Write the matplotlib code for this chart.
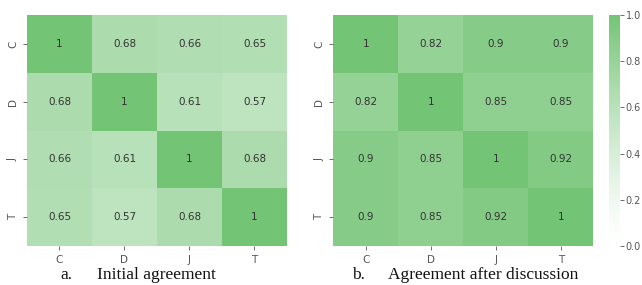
import numpy as np
import matplotlib
matplotlib.use("Agg")
import matplotlib.pyplot as plt
import seaborn as sns
from matplotlib.colors import LinearSegmentedColormap

labels = ["C", "D", "J", "T"]

initial = [
    [1, 0.68, 0.66, 0.65],
    [0.68, 1, 0.61, 0.57],
    [0.66, 0.61, 1, 0.68],
    [0.65, 0.57, 0.68, 1],
]

after = [
    [1, 0.82, 0.9, 0.9],
    [0.82, 1, 0.85, 0.85],
    [0.9, 0.85, 1, 0.92],
    [0.9, 0.85, 0.92, 1],
]

letters = ["a.", "b."]
captions = ["Initial agreement", "Agreement after discussion"]

cmap = LinearSegmentedColormap.from_list("gr", ["#ffffff", "#74c476"], N=256, gamma=1.35)

fig = plt.figure(figsize=(6.42, 2.85), dpi=100)
ax1 = fig.add_axes([0.042, 0.137, 0.405, 0.81])
ax2 = fig.add_axes([0.519, 0.137, 0.405, 0.81])
cax = fig.add_axes([0.949, 0.137, 0.016, 0.81])

for ax, data, cb in [(ax1, initial, False), (ax2, after, True)]:
    sns.heatmap(np.array(data), ax=ax, cmap=cmap, vmin=0, vmax=1, annot=True,
                annot_kws={"fontsize": 7.5, "color": "#333333"},
                xticklabels=labels, yticklabels=labels,
                cbar=cb, cbar_ax=cax if cb else None)
    ax.tick_params(colors="#555555", labelsize=7.5, length=3, width=0.6)
    for t in ax.get_yticklabels():
        t.set_rotation(90)
        t.set_va("center")
    for t in ax.texts:
        t.set_color("#333333")

# captions below each panel
cap_x = [(60, 97), (352, 388)]
for (xl, xc), let, cap in zip(cap_x, letters, captions):
    fig.text(xl / 642, 0.022, let, ha="left", va="baseline",
             fontsize=12.5, family="Liberation Serif", color="#111111")
    fig.text(xc / 642, 0.022, cap, ha="left", va="baseline",
             fontsize=12.5, family="Liberation Serif", color="#111111")

cax.tick_params(colors="#555555", labelsize=7, length=3, width=0.6, pad=1.5)
cax.set_yticks([0, 0.2, 0.4, 0.6, 0.8, 1.0])
cax.set_yticklabels(["0.0", "0.2", "0.4", "0.6", "0.8", "1.0"])
for s in cax.spines.values():
    s.set_visible(False)

fig.savefig("out.png", dpi=100)
